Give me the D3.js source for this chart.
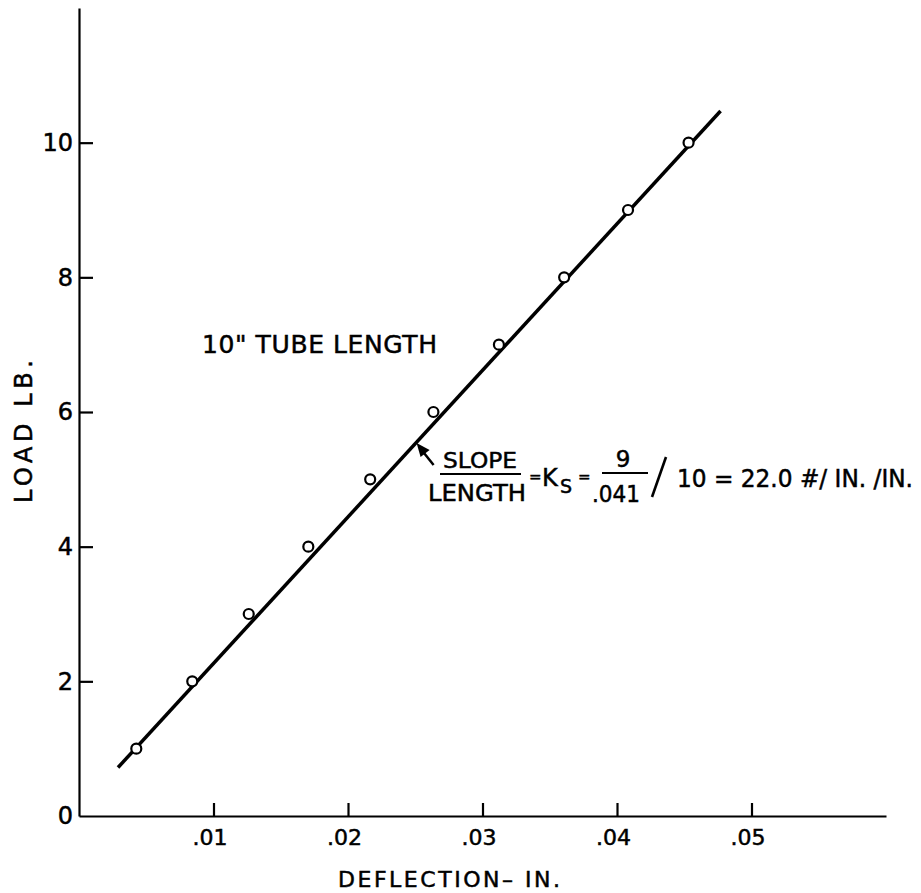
<!DOCTYPE html>
<html>
<head>
<meta charset="utf-8">
<script src="https://cdn.jsdelivr.net/npm/d3@7"></script>
<style>
  body { margin: 0; background: #fff; }
  text { font-family: "DejaVu Sans", "Liberation Sans", sans-serif; fill: #000; stroke: #000; stroke-width: 0.5px; }
</style>
</head>
<body>
<script>
// data
const deflection = [0.00426, 0.00842, 0.01262, 0.01705, 0.02165, 0.02635, 0.03122, 0.03607, 0.04082, 0.04532];
const load = [1, 2, 3, 4, 5, 6, 7, 8, 9, 10];
const fitX = [0.0029, 0.0477];
const fitY = [0.72, 10.47];
const xTicks = [0.01, 0.02, 0.03, 0.04, 0.05];
const xTickLabels = [".01", ".02", ".03", ".04", ".05"];
const yTicks = [0, 2, 4, 6, 8, 10];
const arrowTip = [0.0251, 5.54];

const W = 921, H = 893;

const svg = d3.select("body").append("svg")
    .attr("width", W)
    .attr("height", H);

const x = d3.scaleLinear().domain([0, 0.06]).range([79, 886]);
const y = d3.scaleLinear().domain([0, 12]).range([816, 8]);

// x axis, ticks pointing up
const xAxis = svg.append("g")
    .attr("transform", "translate(0," + y(0) + ")")
    .call(d3.axisBottom(x)
        .tickValues(xTicks)
        .tickFormat((d, i) => xTickLabels[i])
        .tickSizeInner(-13)
        .tickSizeOuter(0)
        .tickPadding(13));
xAxis.selectAll("text")
    .attr("dx", -4)
    .style("font-size", "22px");

// y axis, ticks pointing right
const yAxis = svg.append("g")
    .attr("transform", "translate(" + x(0) + ",0)")
    .call(d3.axisLeft(y)
        .tickValues(yTicks)
        .tickFormat(d3.format("d"))
        .tickSizeInner(-14)
        .tickSizeOuter(0)
        .tickPadding(6));
yAxis.selectAll("text")
    .style("font-size", "24px");
yAxis.selectAll(".tick").filter(d => d === 0).select("line").remove();

svg.selectAll(".domain, .tick line")
    .attr("stroke", "#000")
    .attr("stroke-width", 2.2);

// axis titles
svg.append("text")
    .attr("x", 338)
    .attr("y", 887)
    .attr("textLength", 222)
    .attr("lengthAdjust", "spacing")
    .style("font-size", "22px")
    .text("DEFLECTION– IN.");

svg.append("text")
    .attr("transform", "translate(32,503) rotate(-90)")
    .attr("textLength", 143)
    .attr("lengthAdjust", "spacing")
    .style("font-size", "24px")
    .text("LOAD  LB.");

// fitted line
svg.append("line")
    .attr("x1", x(fitX[0])).attr("y1", y(fitY[0]))
    .attr("x2", x(fitX[1])).attr("y2", y(fitY[1]))
    .attr("stroke", "#000")
    .attr("stroke-width", 3.5);

// test points
svg.selectAll(".pt")
    .data(deflection.map((d, i) => ({ d, l: load[i] })))
    .enter().append("circle")
    .attr("class", "pt")
    .attr("cx", p => x(p.d))
    .attr("cy", p => y(p.l))
    .attr("r", 5)
    .attr("fill", "#fff")
    .attr("stroke", "#000")
    .attr("stroke-width", 2.2);

// caption
svg.append("text")
    .attr("x", 202)
    .attr("y", 353)
    .attr("textLength", 235)
    .attr("lengthAdjust", "spacing")
    .style("font-size", "25px")
    .text("10\" TUBE  LENGTH");

// slope annotation
const tx = x(arrowTip[0]), ty = y(arrowTip[1]);
const ann = svg.append("g");

ann.append("line")
    .attr("x1", tx + 17).attr("y1", ty + 22)
    .attr("x2", tx + 5).attr("y2", ty + 7)
    .attr("stroke", "#000")
    .attr("stroke-width", 2.5);
ann.append("path")
    .attr("d", "M" + tx + "," + ty + " L" + (tx + 13) + "," + (ty + 7) + " L" + (tx + 4) + "," + (ty + 14) + " Z")
    .attr("fill", "#000");

ann.append("text").attr("x", 480).attr("y", 468)
    .attr("text-anchor", "middle")
    .attr("textLength", 74).attr("lengthAdjust", "spacingAndGlyphs")
    .style("font-size", "22px").text("SLOPE");
ann.append("line")
    .attr("x1", 440).attr("x2", 521).attr("y1", 474).attr("y2", 474)
    .attr("stroke", "#000").attr("stroke-width", 2);
ann.append("text").attr("x", 428).attr("y", 501)
    .attr("textLength", 98).attr("lengthAdjust", "spacingAndGlyphs")
    .style("font-size", "23px").text("LENGTH");

ann.append("text").attr("x", 529).attr("y", 482)
    .style("font-size", "15px").text("=");
ann.append("text").attr("x", 542).attr("y", 486)
    .style("font-size", "24px").text("K");
ann.append("text").attr("x", 560).attr("y", 493)
    .style("font-size", "19px").text("S");
ann.append("text").attr("x", 578).attr("y", 482)
    .style("font-size", "15px").text("=");

ann.append("text").attr("x", 623).attr("y", 467)
    .attr("text-anchor", "middle")
    .style("font-size", "23px").text("9");
ann.append("line")
    .attr("x1", 602).attr("x2", 648).attr("y1", 473).attr("y2", 473)
    .attr("stroke", "#000").attr("stroke-width", 2);
ann.append("text").attr("x", 592).attr("y", 502)
    .attr("textLength", 48).attr("lengthAdjust", "spacingAndGlyphs")
    .style("font-size", "23px").text(".041");

ann.append("line")
    .attr("x1", 652).attr("y1", 497)
    .attr("x2", 666).attr("y2", 457)
    .attr("stroke", "#000").attr("stroke-width", 2.6);

ann.append("text").attr("x", 677).attr("y", 487)
    .attr("textLength", 236).attr("lengthAdjust", "spacingAndGlyphs")
    .style("font-size", "24px").text("10 = 22.0 #/ IN. /IN.");
</script>
</body>
</html>
